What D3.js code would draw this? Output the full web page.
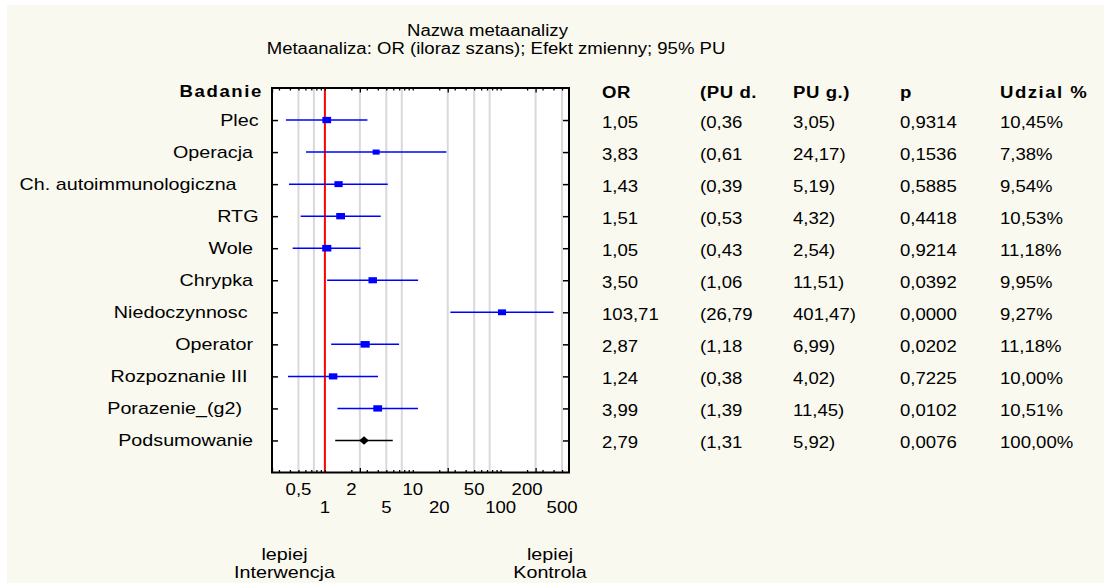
<!DOCTYPE html>
<html>
<head>
<meta charset="utf-8">
<script src="https://cdn.jsdelivr.net/npm/d3@7"></script>
<style>
  html, body { margin: 0; padding: 0; background: #ffffff; }
  svg { display: block; }
  text { font-family: "Liberation Sans", Arial, sans-serif; fill: #000; white-space: pre; }
</style>
</head>
<body>
<svg id="chart" width="1104" height="583"></svg>
<script>
// ---- data ----
const studies = ["Plec", "Operacja ", "Ch. autoimmunologiczna    ", "RTG", "Wole ", "Chrypka ",
                 "Niedoczynnosc  ", "Operator ", "Rozpoznanie III  ", "Porazenie_(g2)   ", "Podsumowanie "];
const orValues = [1.05, 3.83, 1.43, 1.51, 1.05, 3.50, 103.71, 2.87, 1.24, 3.99, 2.79];
const ciLower  = [0.36, 0.61, 0.39, 0.53, 0.43, 1.06, 26.79, 1.18, 0.38, 1.39, 1.31];
const ciUpper  = [3.05, 24.17, 5.19, 4.32, 2.54, 11.51, 401.47, 6.99, 4.02, 11.45, 5.92];
const pValues  = ["0,9314", "0,1536", "0,5885", "0,4418", "0,9214", "0,0392", "0,0000", "0,0202", "0,7225", "0,0102", "0,0076"];
const weights  = [10.45, 7.38, 9.54, 10.53, 11.18, 9.95, 9.27, 11.18, 10.00, 10.51, 100.00];
const columnHeaders = ["OR", "(PU d.", "PU g.)", "p", "Udzial %"];
const tickLabelsUpper = [0.5, 2, 10, 50, 200];
const tickLabelsLower = [1, 5, 20, 100, 500];
const gridValues = [0.5, 0.75, 2.5, 5, 7.5, 25, 50, 75, 250, 500];
const majorTicks = [0.25, 2.5, 25, 250];
const titleLines = ["Nazwa metaanalizy", "Metaanaliza: OR (iloraz szans); Efekt zmienny; 95% PU"];
const sideNotes = [["lepiej", "Interwencja"], ["lepiej", "Kontrola"]];

// ---- layout ----
const SX = 1.16;                       // horizontal text stretch
const plot = { left: 272, right: 569, top: 88, bottom: 472.5 };
const colX = [602, 700, 793, 900, 1000];
const labelRight = 258.5;

const svg = d3.select("#chart");
const comma = s => s.replace(".", ",");
const f2 = d3.format(".2f");

function txt(x, y, str, size, opts = {}) {
  const t = svg.append("text")
    .attr("transform", `translate(${x},${y}) scale(${SX},1)`)
    .attr("font-size", size)
    .attr("text-anchor", opts.anchor || "start")
    .text(str);
  if (opts.bold) t.attr("font-weight", "bold");
  if (opts.ls) t.attr("letter-spacing", opts.ls);
  return t;
}

// background
svg.append("rect").attr("width", 1104).attr("height", 583).attr("fill", "#ffffff");
svg.append("rect").attr("x", 7).attr("y", 5).attr("width", 1097).attr("height", 578).attr("fill", "#f9f9ef");

// scales
const x = d3.scaleLog().domain([0.25, 600]).range([plot.left, plot.right]);
const y = d3.scaleLinear().domain([0, 12]).range([plot.top, plot.bottom]);

// plot area
svg.append("rect")
  .attr("x", plot.left).attr("y", plot.top)
  .attr("width", plot.right - plot.left).attr("height", plot.bottom - plot.top)
  .attr("fill", "#ffffff");

// vertical grid lines
svg.append("g").selectAll("line").data(gridValues).join("line")
  .attr("x1", d => x(d)).attr("x2", d => x(d))
  .attr("y1", plot.top).attr("y2", plot.bottom)
  .attr("stroke", "#d9d9d9").attr("stroke-width", 2);

// reference line at OR = 1
svg.append("line")
  .attr("x1", x(1)).attr("x2", x(1)).attr("y1", plot.top).attr("y2", plot.bottom)
  .attr("stroke", "#ff0000").attr("stroke-width", 2);

// minor / major ticks on top and bottom edges
const minorTicks = [];
for (let e = -1; e <= 2; e++) for (let m = 1; m <= 9; m++) {
  const v = +(m * Math.pow(10, e)).toPrecision(3);
  if (v > 0.25 && v < 600) minorTicks.push(v);
}
function edgeTicks(axisFn, ypos, values, size) {
  const g = svg.append("g").attr("transform", `translate(0,${ypos})`)
    .call(axisFn(x).tickValues(values).tickSize(size).tickSizeOuter(0).tickFormat(""));
  g.select(".domain").remove();
  g.selectAll("line").attr("stroke", "#000").attr("stroke-width", 1.3);
}
edgeTicks(d3.axisTop, plot.top, minorTicks, -2.5);
edgeTicks(d3.axisTop, plot.top, majorTicks, -4.5);
edgeTicks(d3.axisBottom, plot.bottom, minorTicks, -2.5);
edgeTicks(d3.axisBottom, plot.bottom, majorTicks, -4.5);

// row ticks on left and right edges
const rowIdx = d3.range(1, studies.length + 1);
function sideTicks(axisFn, xpos) {
  const g = svg.append("g").attr("transform", `translate(${xpos},0)`)
    .call(axisFn(y).tickValues(rowIdx).tickSize(-6).tickSizeOuter(0).tickFormat(""));
  g.select(".domain").remove();
  g.selectAll("line").attr("stroke", "#000").attr("stroke-width", 1.5);
}
sideTicks(d3.axisLeft, plot.left);
sideTicks(d3.axisRight, plot.right);

// confidence intervals and point estimates
const rows = studies.map((s, i) => ({
  name: s, or: orValues[i], lo: ciLower[i], hi: ciUpper[i], p: pValues[i], w: weights[i],
  row: i + 1, summary: i === studies.length - 1
}));

svg.append("g").selectAll("line").data(rows).join("line")
  .attr("x1", d => x(d.lo)).attr("x2", d => x(d.hi))
  .attr("y1", d => y(d.row)).attr("y2", d => y(d.row))
  .attr("stroke", d => d.summary ? "#000000" : "#0000ff")
  .attr("stroke-width", 1.5);

const boxW = w => 3 + 0.55 * w;
svg.append("g").selectAll("rect").data(rows.filter(d => !d.summary)).join("rect")
  .attr("x", d => x(d.or) - boxW(d.w) / 2)
  .attr("y", d => y(d.row) - boxW(d.w) * 0.36)
  .attr("width", d => boxW(d.w))
  .attr("height", d => boxW(d.w) * 0.72)
  .attr("fill", "#0000ff");

svg.append("g").selectAll("path").data(rows.filter(d => d.summary)).join("path")
  .attr("d", d => {
    const cx = x(d.or), cy = y(d.row), hw = 4.8, hh = 4.3;
    return `M${cx - hw},${cy}L${cx},${cy - hh}L${cx + hw},${cy}L${cx},${cy + hh}Z`;
  })
  .attr("fill", "#000000");

// plot frame
svg.append("rect")
  .attr("x", plot.left).attr("y", plot.top)
  .attr("width", plot.right - plot.left).attr("height", plot.bottom - plot.top)
  .attr("fill", "none").attr("stroke", "#000").attr("stroke-width", 2);

// titles
txt(487.5, 36, titleLines[0], 16, { anchor: "middle" });
txt(496, 54, titleLines[1], 16, { anchor: "middle" });

// header row
txt(263, 97, "Badanie", 16, { anchor: "end", bold: true, ls: 1.4 });
columnHeaders.forEach((h, j) => txt(colX[j], 98, h, 16, { bold: true, ls: j === 4 ? 1.3 : 0.5 }));

// study labels and table values
rows.forEach(d => {
  const yy = y(d.row);
  txt(labelRight, yy + 6, d.name, 17, { anchor: "end" });
  txt(colX[0], yy + 7.5, comma(f2(d.or)), 16);
  txt(colX[1], yy + 7.5, "(" + comma(f2(d.lo)), 16);
  txt(colX[2], yy + 7.5, comma(f2(d.hi)) + ")", 16);
  txt(colX[3], yy + 7.5, d.p, 16);
  txt(colX[4], yy + 7.5, comma(f2(d.w)) + "%", 16);
});

// axis value labels in two staggered rows
const fmtTick = v => comma(String(v));
tickLabelsUpper.forEach(v => txt(x(v), 495, fmtTick(v), 16, { anchor: "middle" }));
tickLabelsLower.forEach(v => txt(x(v), 513, fmtTick(v), 16, { anchor: "middle" }));

// direction notes under the axis
const noteX = [284.5, 550];
sideNotes.forEach((lines, k) => {
  txt(noteX[k], 560, lines[0], 17, { anchor: "middle" });
  txt(noteX[k], 578, lines[1], 17, { anchor: "middle" });
});
</script>
</body>
</html>
